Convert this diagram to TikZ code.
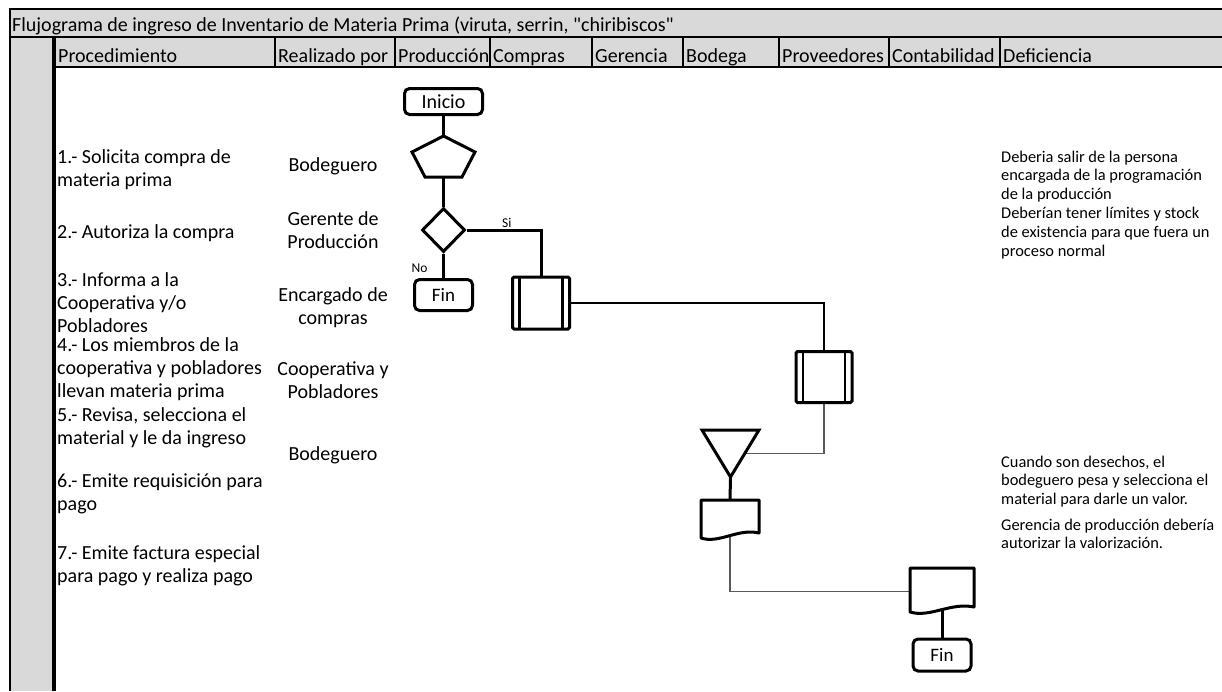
\documentclass[tikz,border=0pt]{standalone}
\usepackage{fontspec}
\setmainfont{Carlito}[Ligatures=TeXOff]
\usetikzlibrary{shapes.geometric,calc}
\pgfdeclarelayer{bg}
\pgfsetlayers{bg,main}
\definecolor{cellgray}{HTML}{D9D9D9}
\definecolor{thinline}{HTML}{595959}
\newcommand\bodysize{\fontsize{20}{23}\selectfont}
\newcommand\notesize{\fontsize{16.4}{18.8}\selectfont}
\newcommand\smallsize{\fontsize{13.5}{15}\selectfont}

\begin{document}
\begin{tikzpicture}[x=1pt,y=-1pt,
  rule/.style={line width=2.3pt},
  hdr/.style={anchor=base west,inner sep=0,font=\bodysize},
  proctxt/.style={anchor=north west,inner sep=0,align=left,font=\bodysize},
  whotxt/.style={anchor=north,inner sep=0,align=center,font=\bodysize},
  notetxt/.style={anchor=north west,inner sep=0,align=left,font=\notesize},
  term/.style={draw,line width=3pt,fill=white,rounded corners=5pt,inner sep=0},
  holder/.style={inner sep=0,outer sep=0},
  outline/.style={draw,line width=3pt,fill=white},
  procbox/.style={draw,line width=3pt,fill=white,rounded corners=1.5pt,inner sep=0,
    path picture={\draw[line width=2.4pt]
      ([xshift=7pt]path picture bounding box.north west) -- ([xshift=7pt]path picture bounding box.south west)
      ([xshift=-7pt]path picture bounding box.north east) -- ([xshift=-7pt]path picture bounding box.south east);}},
  flow/.style={line width=3pt},
  midflow/.style={line width=2.3pt},
  thin/.style={line width=1.3pt,draw=thinline},
  lbl/.style={font=\smallsize,inner sep=0.5pt}
]
\useasboundingbox (0,0) rectangle (1222,691);

% shaded title, header and margin cells
\fill[cellgray] (9,9) rectangle (1222,67);
\fill[cellgray] (9,37) rectangle (54,691);

% table rules
\draw[rule] (8.9,9.3) -- (1222,9.3);
\draw[rule] (8.9,37) -- (1222,37);
\draw[rule] (54,67) -- (1222,67);
\draw[rule] (10,8.2) -- (10,691);
\draw[line width=3.3pt] (54,37) -- (54,691);
\foreach \x in {275,395,490,592,683,779,889,1000}
  \draw[rule] (\x,37) -- (\x,67);

% title and column headings
\node[hdr] (title) at (12,31) {Flujograma de ingreso de Inventario de Materia Prima (viruta, serrin, "chiribiscos"};
\node[hdr] (h-proc) at (58,62) {Procedimiento};
\node[hdr] (h-real) at (278,62) {Realizado por};
\node[hdr] (h-prod) at (398,62) {Producción};
\node[hdr] (h-comp) at (493,62) {Compras};
\node[hdr] (h-ger)  at (595,62) {Gerencia};
\node[hdr] (h-bod)  at (686,62) {Bodega};
\node[hdr] (h-prov) at (782,62) {Proveedores};
\node[hdr] (h-cont) at (892,62) {Contabilidad};
\node[hdr] (h-def)  at (1003,62) {Deficiencia};

% procedure steps
\node[proctxt] (s1) at (57,146.9) {\strut 1.- Solicita compra de\\materia prima};
\node[proctxt] (s2) at (57,222.4) {\strut 2.- Autoriza la compra};
\node[proctxt] (s3) at (57,269.9) {\strut 3.- Informa a la\\Cooperativa y/o\\Pobladores};
\node[proctxt] (s4) at (57,335.4) {\strut 4.- Los miembros de la\\cooperativa y pobladores\\llevan materia prima};
\node[proctxt] (s5) at (57,404.9) {\strut 5.- Revisa, selecciona el\\material y le da ingreso};
\node[proctxt] (s6) at (57,470.9) {\strut 6.- Emite requisición para\\pago};
\node[proctxt] (s7) at (57,543.4) {\strut 7.- Emite factura especial\\para pago y realiza pago};

% responsible persons
\node[whotxt] (r1) at (333,154.9) {\strut Bodeguero};
\node[whotxt] (r2) at (333,208.9) {\strut Gerente de\\Producción};
\node[whotxt] (r3) at (333,284.9) {\strut Encargado de\\compras};
\node[whotxt] (r4) at (333,358.9) {\strut Cooperativa y\\Pobladores};
\node[whotxt] (r5) at (333,443.9) {\strut Bodeguero};

% observed deficiencies
\node[notetxt] (n1) at (1001,148.8) {\strut Deberia salir de la persona\\encargada de la programación\\de la producción\\Deberían tener límites y stock\\de existencia para que fuera un\\proceso normal};
\node[notetxt] (n2) at (1001,453.8) {\strut Cuando son desechos, el\\bodeguero pesa y selecciona el\\material para darle un valor.};
\node[notetxt] (n3) at (1001,516.8) {\strut Gerencia de producción debería\\autorizar la valorización.};

% flowchart symbols
\node[term,minimum width=78,minimum height=26,font=\bodysize] (inicio) at (443.5,101.5) {Inicio};
\node[holder,minimum width=63,minimum height=41] (pent) at (443.5,156.5) {};
\draw[outline,line join=miter] (pent.north)
  -- ($(pent.north east)!0.39!(pent.south east)$)
  -- ([xshift=-13pt]pent.south east)
  -- ([xshift=13pt]pent.south west)
  -- ($(pent.north west)!0.39!(pent.south west)$) -- cycle;
\node[diamond,draw,line width=3pt,fill=white,inner sep=0,minimum width=43,minimum height=44] (dec) at (443.5,230) {};
\node[term,minimum width=58,minimum height=31,font=\fontsize{19}{22}\selectfont] (fin1) at (443.5,295) {Fin};
\node[procbox,minimum width=57,minimum height=52] (box1) at (541,303) {};
\node[procbox,minimum width=56,minimum height=51] (box2) at (824,377) {};
\node[holder,minimum width=57,minimum height=47] (tri) at (730.5,453.5) {};
\draw[outline] (tri.north west) -- (tri.north east) -- (tri.south) -- cycle;
\node[holder,minimum width=58,minimum height=42] (doc1) at (730,521) {};
\draw[outline,line join=round] (doc1.north west) -- (doc1.north east) -- ($(doc1.south east)+(0,-9)$)
  .. controls +(-21,-5) and +(18,6) .. ($(doc1.south west)+(0,-4)$) -- cycle;
\node[holder,minimum width=64,minimum height=47] (doc2) at (942,591.5) {};
\draw[outline,line join=round] (doc2.north west) -- (doc2.north east) -- ($(doc2.south east)+(0,-8)$)
  .. controls +(-23,-5) and +(20,6) .. ($(doc2.south west)+(0,-3)$) -- cycle;
\node[term,minimum width=58,minimum height=32,font=\fontsize{19}{22}\selectfont] (fin2) at (942,655) {Fin};

% connectors
\begin{pgfonlayer}{bg}
\draw[flow] (inicio.south) -- (pent.north);
\draw[flow] (pent.south) -- (dec.north);
\draw[flow] (dec.east) -| node[lbl,pos=0.27,above] (si) {Si} (box1.north);
\draw[flow] (dec.south) -- node[lbl,pos=0.6,anchor=east,xshift=-14pt] (no) {No} (fin1.north);
\draw[midflow] (box1.east) -| (box2.north);
\draw[thin] (box2.south) |- ($(tri.north east)!0.5!(tri.south)$);
\draw[flow] (tri.south) -- (doc1.north);
\draw[thin] (doc1.center) |- (doc2.west);
\draw[flow] (doc2.center) -- (fin2.north);
\end{pgfonlayer}
\end{tikzpicture}
\end{document}
